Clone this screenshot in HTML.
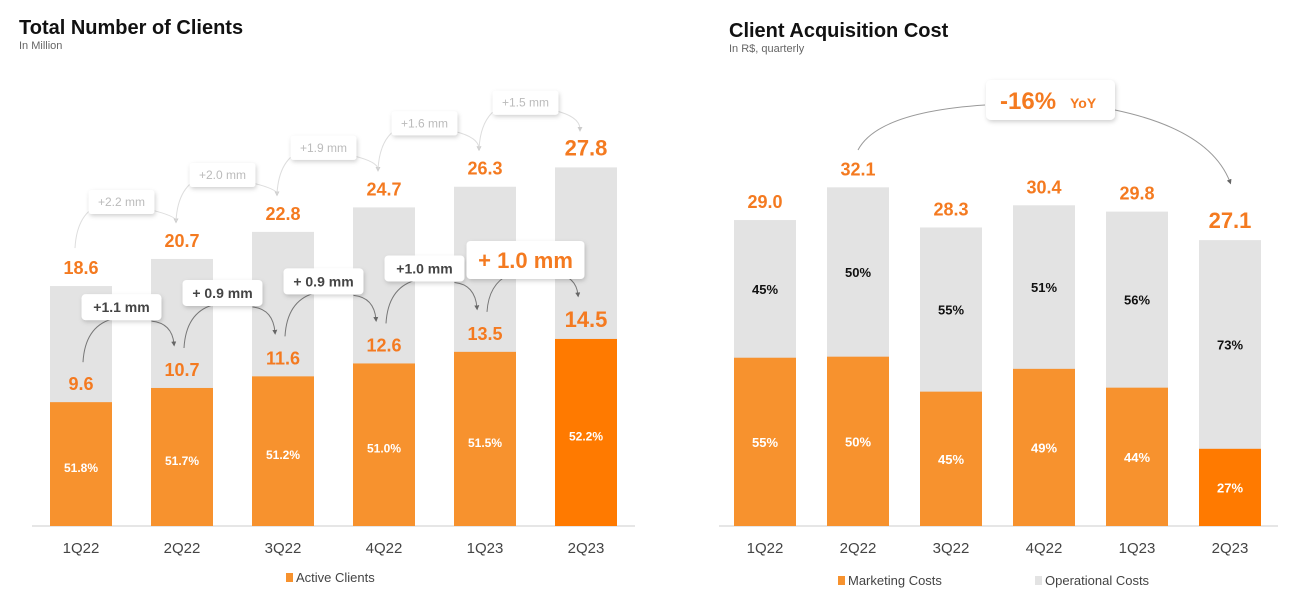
<!DOCTYPE html>
<html><head><meta charset="utf-8"><style>
body{margin:0;background:#fff;width:1292px;height:599px;overflow:hidden;font-family:"Liberation Sans",sans-serif}
svg{position:absolute;left:0;top:0}
</style></head><body>
<svg id="c" width="1292" height="599">
<defs><filter id="sh" x="-20%" y="-30%" width="140%" height="170%"><feDropShadow dx="1" dy="2" stdDeviation="2" flood-color="#000" flood-opacity="0.18"/></filter>
<marker id="ar" viewBox="0 0 10 10" refX="5" refY="5" markerWidth="5" markerHeight="5" orient="auto"><path d="M0,0L10,5L0,10z" fill="#666"/></marker>
<marker id="arl" viewBox="0 0 10 10" refX="5" refY="5" markerWidth="5" markerHeight="5" orient="auto"><path d="M0,0L10,5L0,10z" fill="#ccc"/></marker></defs>
<text x="19" y="34" font-size="20" font-weight="bold" fill="#111">Total Number of Clients</text>
<text x="19" y="49" font-size="11" fill="#666">In Million</text>
<text x="729" y="37" font-size="20" font-weight="bold" fill="#111">Client Acquisition Cost</text>
<text x="729" y="52" font-size="11" fill="#666">In R$, quarterly</text>
</svg>
<script>
const quarters=["1Q22","2Q22","3Q22","4Q22","1Q23","2Q23"];
const totalClients=[18.6,20.7,22.8,24.7,26.3,27.8];
const activeClients=[9.6,10.7,11.6,12.6,13.5,14.5];
const activeShare=["51.8%","51.7%","51.2%","51.0%","51.5%","52.2%"];
const totalDelta=["+2.2 mm","+2.0 mm","+1.9 mm","+1.6 mm","+1.5 mm"];
const activeDelta=["+1.1 mm","+ 0.9 mm","+ 0.9 mm","+1.0 mm","+ 1.0 mm"];
const cac=[29.0,32.1,28.3,30.4,29.8,27.1];
const marketingPct=[55,50,45,49,44,27];
const operationalPct=[45,50,55,51,56,73];
const NS="http://www.w3.org/2000/svg",svg=document.getElementById('c');
function mk(t,a,txt){const e=document.createElementNS(NS,t);for(const k in a)e.setAttribute(k,a[k]);if(txt!=null)e.textContent=txt;svg.appendChild(e);return e;}
const OR="#F7922E",OR2="#FF7A00",GR="#E3E3E3",BASE=526;
// left axes
const lx=i=>81+101*i, ly=v=>BASE-v*12.9, LW=62;
// right axes
const rx=i=>765+93*i, ry=v=>BASE-v*10.55, RW=62;
let e;
e=mk('line',{x1:32,x2:635,y1:BASE,y2:BASE,stroke:"#ccc"});
e=mk('line',{x1:719,x2:1278,y1:BASE,y2:BASE,stroke:"#ccc"});
quarters.forEach((q,i)=>{
  const last=i==5;
  e=mk('rect',{x:lx(i)-LW/2,y:ly(totalClients[i]),width:LW,height:BASE-ly(totalClients[i]),fill:GR});
  
  e=mk('rect',{x:lx(i)-LW/2,y:ly(activeClients[i]),width:LW,height:BASE-ly(activeClients[i]),fill:last?OR2:OR});
  
  e=mk('text',{x:lx(i),y:ly(totalClients[i])-12,'text-anchor':'middle','font-size':last?22:18,'font-weight':'bold',fill:"#F47A20"},totalClients[i].toFixed(1));
  
  e=mk('text',{x:lx(i),y:ly(activeClients[i])-12,'text-anchor':'middle','font-size':last?22:18,'font-weight':'bold',fill:"#F47A20"},activeClients[i].toFixed(1));
  
  e=mk('text',{x:lx(i),y:(ly(activeClients[i])+BASE)/2+8,'text-anchor':'middle','font-size':12,'font-weight':'bold',fill:"#fff"},activeShare[i]);
  
  e=mk('text',{x:lx(i),y:553,'text-anchor':'middle','font-size':15,fill:"#444"},q);
  
  // right
  const top=ry(cac[i]),h=BASE-top,mt=BASE-h*marketingPct[i]/100;
  e=mk('rect',{x:rx(i)-RW/2,y:top,width:RW,height:h,fill:GR});
  
  e=mk('rect',{x:rx(i)-RW/2,y:mt,width:RW,height:BASE-mt,fill:last?OR2:OR});
  
  e=mk('text',{x:rx(i),y:top-12,'text-anchor':'middle','font-size':last?22:18,'font-weight':'bold',fill:"#F47A20"},cac[i].toFixed(1));
  
  e=mk('text',{x:rx(i),y:(top+mt)/2+5,'text-anchor':'middle','font-size':13,'font-weight':'bold',fill:"#111"},operationalPct[i]+'%');
  
  e=mk('text',{x:rx(i),y:(mt+BASE)/2+5,'text-anchor':'middle','font-size':13,'font-weight':'bold',fill:"#fff"},marketingPct[i]+'%');
  
  e=mk('text',{x:rx(i),y:553,'text-anchor':'middle','font-size':15,fill:"#444"},q);
  
});
// delta boxes
totalDelta.forEach((d,i)=>{
  const cx=(lx(i)+lx(i+1))/2-10, cy=ly(totalClients[i])-84;
  e=mk('path',{d:`M${lx(i)-6},${ly(totalClients[i])-38} Q${lx(i)-4},${cy+10} ${cx-20},${cy+2}`,fill:'none',stroke:'#ddd'});
  
  e=mk('path',{d:`M${cx+30},${cy+8} Q${lx(i+1)-6},${cy+14} ${lx(i+1)-6},${ly(totalClients[i+1])-38}`,fill:'none',stroke:'#ddd','marker-end':'url(#arl)'});
  
  e=mk('rect',{x:cx-33,y:cy-12,width:66,height:24,rx:3,fill:'#fff',filter:'url(#sh)'});
  
  e=mk('text',{x:cx,y:cy+4,'text-anchor':'middle','font-size':12,fill:'#bbb'},d);
  
});
activeDelta.forEach((d,i)=>{
  const big=i==4, cx=(lx(i)+lx(i+1))/2-10, cy=big?260:ly(activeClients[i])-95;
  e=mk('path',{d:`M${lx(i)+2},${ly(activeClients[i])-40} Q${lx(i)+4},${cy+20} ${cx-10},${cy+12}`,fill:'none',stroke:'#777'});
  
  e=mk('path',{d:`M${cx+30},${cy+14} Q${lx(i+1)-10},${cy+16} ${lx(i+1)-8},${ly(activeClients[i+1])-44}`,fill:'none',stroke:'#777','marker-end':'url(#ar)'});
  
  const w=big?118:80,h=big?38:26;
  e=mk('rect',{x:cx-w/2,y:cy-h/2,width:w,height:h,rx:4,fill:'#fff',filter:'url(#sh)'});
  
  e=mk('text',{x:cx,y:cy+(big?8:5),'text-anchor':'middle','font-size':big?22:14,'font-weight':'bold',fill:big?'#F47A20':'#444'},d);
  
});
// YoY
e=mk('path',{d:`M${rx(1)},150 Q${rx(1)+20},112 985,105`,fill:'none',stroke:'#999'});

e=mk('path',{d:`M1115,110 Q1210,130 1230,182`,fill:'none',stroke:'#999','marker-end':'url(#ar)'});

e=mk('rect',{x:986,y:80,width:129,height:40,rx:5,fill:'#fff',filter:'url(#sh)'});

e=mk('text',{x:1000,y:109,'font-size':24,'font-weight':'bold',fill:'#F47A20'},'-16%');

e=mk('text',{x:1070,y:108,'font-size':14,'font-weight':'bold',fill:'#F47A20'},'YoY');

// legends
e=mk('rect',{x:286,y:573,width:7,height:9,fill:OR});
e=mk('text',{x:296,y:582,'font-size':13,fill:'#444'},'Active Clients');
e=mk('rect',{x:838,y:576,width:7,height:9,fill:OR});
e=mk('text',{x:848,y:585,'font-size':13,fill:'#444'},'Marketing Costs');
e=mk('rect',{x:1035,y:576,width:7,height:9,fill:GR});
e=mk('text',{x:1045,y:585,'font-size':13,fill:'#444'},'Operational Costs');
</script>
</body></html>
